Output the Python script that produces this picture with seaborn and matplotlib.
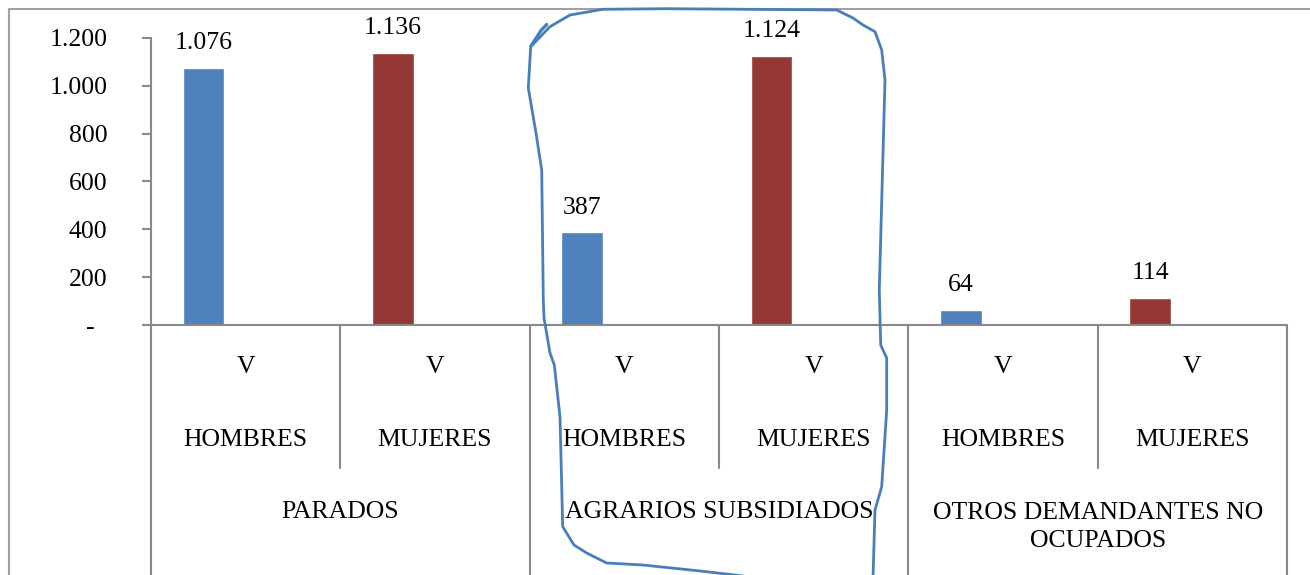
import numpy as np
import pandas as pd
import matplotlib.pyplot as plt
import seaborn as sns
from matplotlib.lines import Line2D

# datos del gráfico
grupos = ['PARADOS', 'AGRARIOS SUBSIDIADOS', 'OTROS DEMANDANTES NO\nOCUPADOS']
sexos = ['HOMBRES', 'MUJERES']
codigos = ['V', 'V', 'V', 'V', 'V', 'V']
valores = [1076, 1136, 387, 1124, 64, 114]
y_ticks = [0, 200, 400, 600, 800, 1000, 1200]

df = pd.DataFrame({
    'grupo': np.repeat(grupos, 2),
    'sexo': sexos * 3,
    'valor': valores,
})
df['cat'] = df['grupo'] + ' | ' + df['sexo']

sns.set_theme(style = 'white')
plt.rcParams['font.family'] = ['Liberation Serif', 'DejaVu Serif']
plt.rcParams['text.color'] = 'black'
plt.rcParams['ytick.color'] = 'black'

W, H = 1310, 575
gris = '#898989'
fs = 18.5

fig = plt.figure(figsize = (W / 100, H / 100), dpi = 100)
fig.patch.set_facecolor('white')
ax = fig.add_axes([151 / W, 1 - 325 / H, (1287 - 151) / W, (325 - 38) / H])

sns.barplot(data = df, x = 'cat', y = 'valor', hue = 'sexo', palette = ['#4F81BD', '#953735'],
            dodge = False, width = 0.22, saturation = 1, legend = False, ax = ax)

# las barras van a la izquierda de cada casilla (como en Excel)
desp = 0.222
ax.set_xlim(-0.5 + desp, len(df) - 0.5 + desp)
ax.set_ylim(0, 1200)
ax.set_yticks(y_ticks)
ax.set_yticklabels(['-  ' if v == 0 else f'{v:,}'.replace(',', '.') for v in y_ticks], fontsize = fs)
ax.set_xticks([])
ax.set_xlabel('')
ax.set_ylabel('')

for s in ['top', 'right']:
    ax.spines[s].set_visible(False)
for s in ['left', 'bottom']:
    ax.spines[s].set_color(gris)
    ax.spines[s].set_linewidth(1.5)
ax.tick_params(axis = 'y', left = True, direction = 'out', length = 6.5, width = 1.5, color = gris,
               labelcolor = 'black', pad = 25)

# etiquetas de datos
for c in ax.containers:
    ax.bar_label(c, fmt = lambda v: f'{v:,.0f}'.replace(',', '.'), padding = 10, fontsize = fs, color = 'black')

# tabla de categorías debajo del eje
tr = ax.get_xaxis_transform()
def fy(ypx):
    return (325 - ypx) / 287

for i in range(len(df) + 1):
    x = i - 0.5 + desp
    fin = 600 if i % 2 == 0 else 468
    ax.plot([x, x], [0, fy(fin)], transform = tr, color = gris, lw = 1.5, clip_on = False)

for i, (cod, sexo) in enumerate(zip(codigos, df['sexo'])):
    ax.text(i + desp, fy(367), cod, transform = tr, ha = 'center', va = 'center', fontsize = fs, color = 'black')
    ax.text(i + desp, fy(440), sexo, transform = tr, ha = 'center', va = 'center', fontsize = fs, color = 'black')

for j, g in enumerate(grupos):
    n = g.count('\n') + 1
    ax.text(2 * j + 0.5 + desp, fy(512 + 15 * (n - 1)), g, transform = tr, ha = 'center', va = 'center',
            fontsize = fs, linespacing = 1.3, color = 'black')

# borde del área del gráfico
fig.add_artist(Line2D([9 / W, 9 / W, 1], [0, 1 - 9 / H, 1 - 9 / H], transform = fig.transFigure,
                      color = '#a0a0a0', lw = 1.5))

# círculo dibujado a mano alrededor de AGRARIOS SUBSIDIADOS
trazo = [(873, 578), (875, 510), (881.7, 486.7), (886.7, 410), (886.7, 358), (880.7, 345), (879.3, 290),
         (885, 80), (881.7, 50), (875, 31.7), (863, 25), (853, 18), (836.7, 10),
         (666.7, 8.7), (603, 9.3), (570, 15), (550, 26.7), (530.7, 46.7), (528.3, 88), (536, 133),
         (541.7, 170), (543.3, 300), (544, 318), (550, 353), (554.3, 365), (560, 416.7), (562.7, 526.7),
         (574, 545), (586.7, 553), (606.7, 563), (643, 565), (706.7, 571.7), (760, 578)]
xs = [p[0] / W for p in trazo]
ys = [1 - p[1] / H for p in trazo]
fig.add_artist(Line2D(xs, ys, transform = fig.transFigure, color = '#4a7ebb', lw = 2.0,
                      solid_joinstyle = 'round', solid_capstyle = 'round'))
gancho = [(546.7, 24.5), (541, 30.5), (531, 46)]
fig.add_artist(Line2D([p[0] / W for p in gancho], [1 - p[1] / H for p in gancho], transform = fig.transFigure,
                      color = '#4a7ebb', lw = 2.4, solid_capstyle = 'round'))

fig.savefig('out.png', dpi = 100)
